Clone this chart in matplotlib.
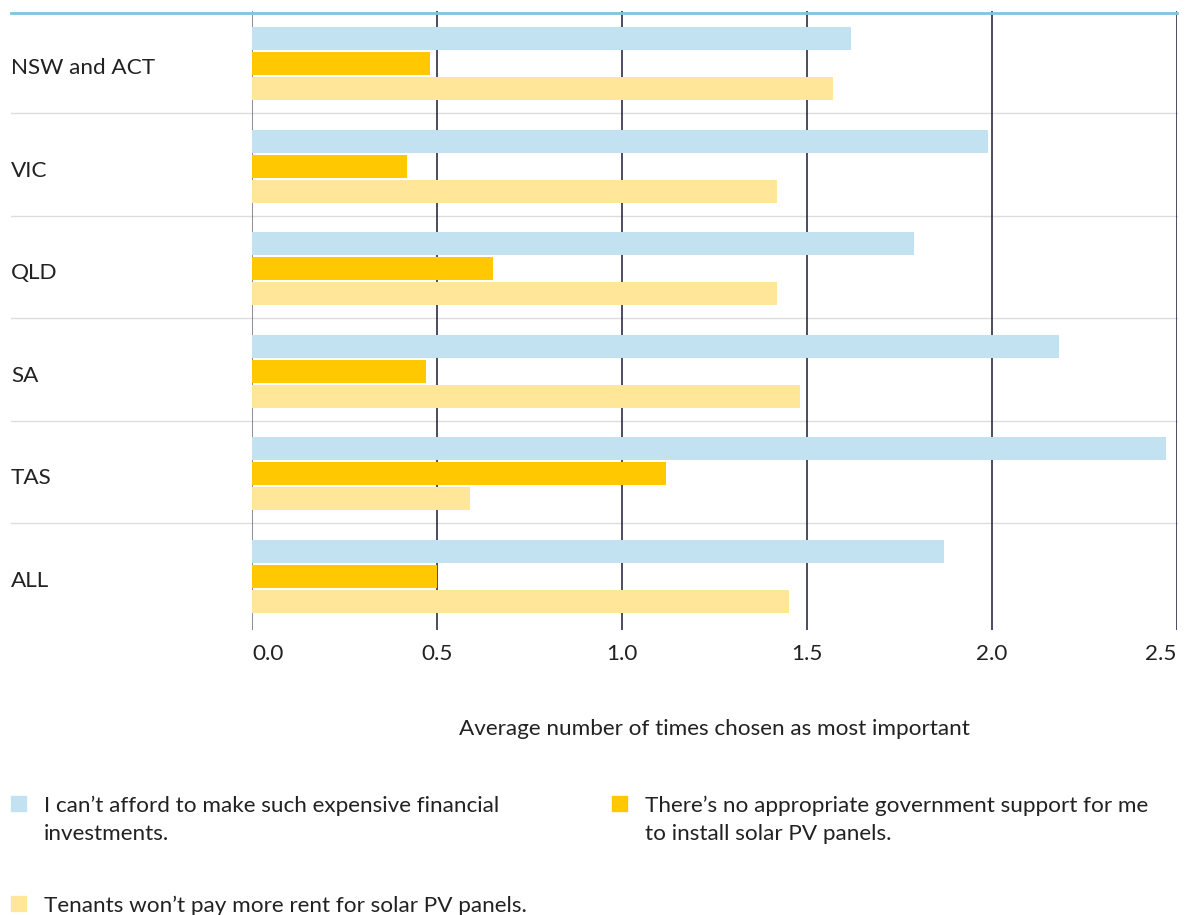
import numpy as np
import matplotlib
matplotlib.use('Agg')
import matplotlib.pyplot as plt
from matplotlib.patches import Rectangle

plt.rcParams['font.family'] = ['Lato', 'DejaVu Sans']

regions = ['NSW and ACT', 'VIC', 'QLD', 'SA', 'TAS', 'ALL']
cant_afford = [1.62, 1.99, 1.79, 2.18, 2.47, 1.87]
no_support = [0.48, 0.42, 0.65, 0.47, 1.12, 0.50]
no_rent = [1.57, 1.42, 1.42, 1.48, 0.59, 1.45]
series_labels = ['I can’t afford to make such expensive financial\ninvestments.',
                 'There’s no appropriate government support for me\nto install solar PV panels.',
                 'Tenants won’t pay more rent for solar PV panels.']
xticks = [0.0, 0.5, 1.0, 1.5, 2.0, 2.5]
xlabel = 'Average number of times chosen as most important'

colors = ['#c2e2f2', '#ffc800', '#ffe699']
W, H = 1192, 915
FS = 16.2

def fx(px):
    return px / W

def fy(py):
    return 1 - py / H

fig = plt.figure(figsize=(W / 100, H / 100), dpi=100)
ax = fig.add_axes([fx(252), fy(630), fx(1177) - fx(252), fy(11) - fy(630)])

n = len(regions)
rows = np.arange(n)
offsets = [0.27, 0.515, 0.76]
bar_h = 0.225
for vals, off, c in zip([cant_afford, no_support, no_rent], offsets, colors):
    ax.barh(rows + off, vals, height=bar_h, color=c, zorder=2)

ymax = 6.04
ax.set_xlim(0, 2.5)
ax.set_ylim(ymax, 0)

# vertical gridlines
for t in xticks:
    col = '#6e6b82' if t == 0 else '#1c1a36'
    ax.axvline(t, color=col, lw=1.1, zorder=1)

# row separators, stretching into the label area
left_ext = (11 - 252) / 370.0
for i in range(1, n):
    ax.plot([left_ext, 2.5], [i, i], color='#dddddd', lw=1.0, clip_on=False, zorder=0)
ax.plot([left_ext, 2.5], [0.02, 0.02], color='#7fc4e0', lw=2.0, clip_on=False, zorder=3)

for s in ax.spines.values():
    s.set_visible(False)
ax.set_yticks([])
ax.set_xticks(xticks)
ax.set_xticklabels([])
ax.tick_params(axis='x', length=0)

for i, r in enumerate(rows):
    ax.text(left_ext, r + 0.56, regions[i], ha='left', va='center', fontsize=FS, color='#222222')

tick_y = ymax + (654 - 630) / 102.5
for t in xticks:
    ha = 'left' if t == xticks[0] else ('right' if t == xticks[-1] else 'center')
    ax.text(t, tick_y, f'{t:.1f}', ha=ha, va='center', fontsize=FS, color='#222222', clip_on=False)

fig.text(fx(714), fy(729), xlabel, ha='center', va='center', fontsize=FS, color='#222222')

legend_pos = [(11, 803), (612, 803), (11, 903)]
for (lx, ly), c, lab in zip(legend_pos, colors, series_labels):
    fig.patches.append(Rectangle((fx(lx), fy(ly + 8)), fx(15), 15 / H, color=c,
                                 transform=fig.transFigure, figure=fig))
    fig.text(fx(lx + 33), fy(ly - 7), lab, ha='left', va='top', fontsize=FS,
             color='#222222', linespacing=1.45)

fig.savefig('out.png', dpi=100)
